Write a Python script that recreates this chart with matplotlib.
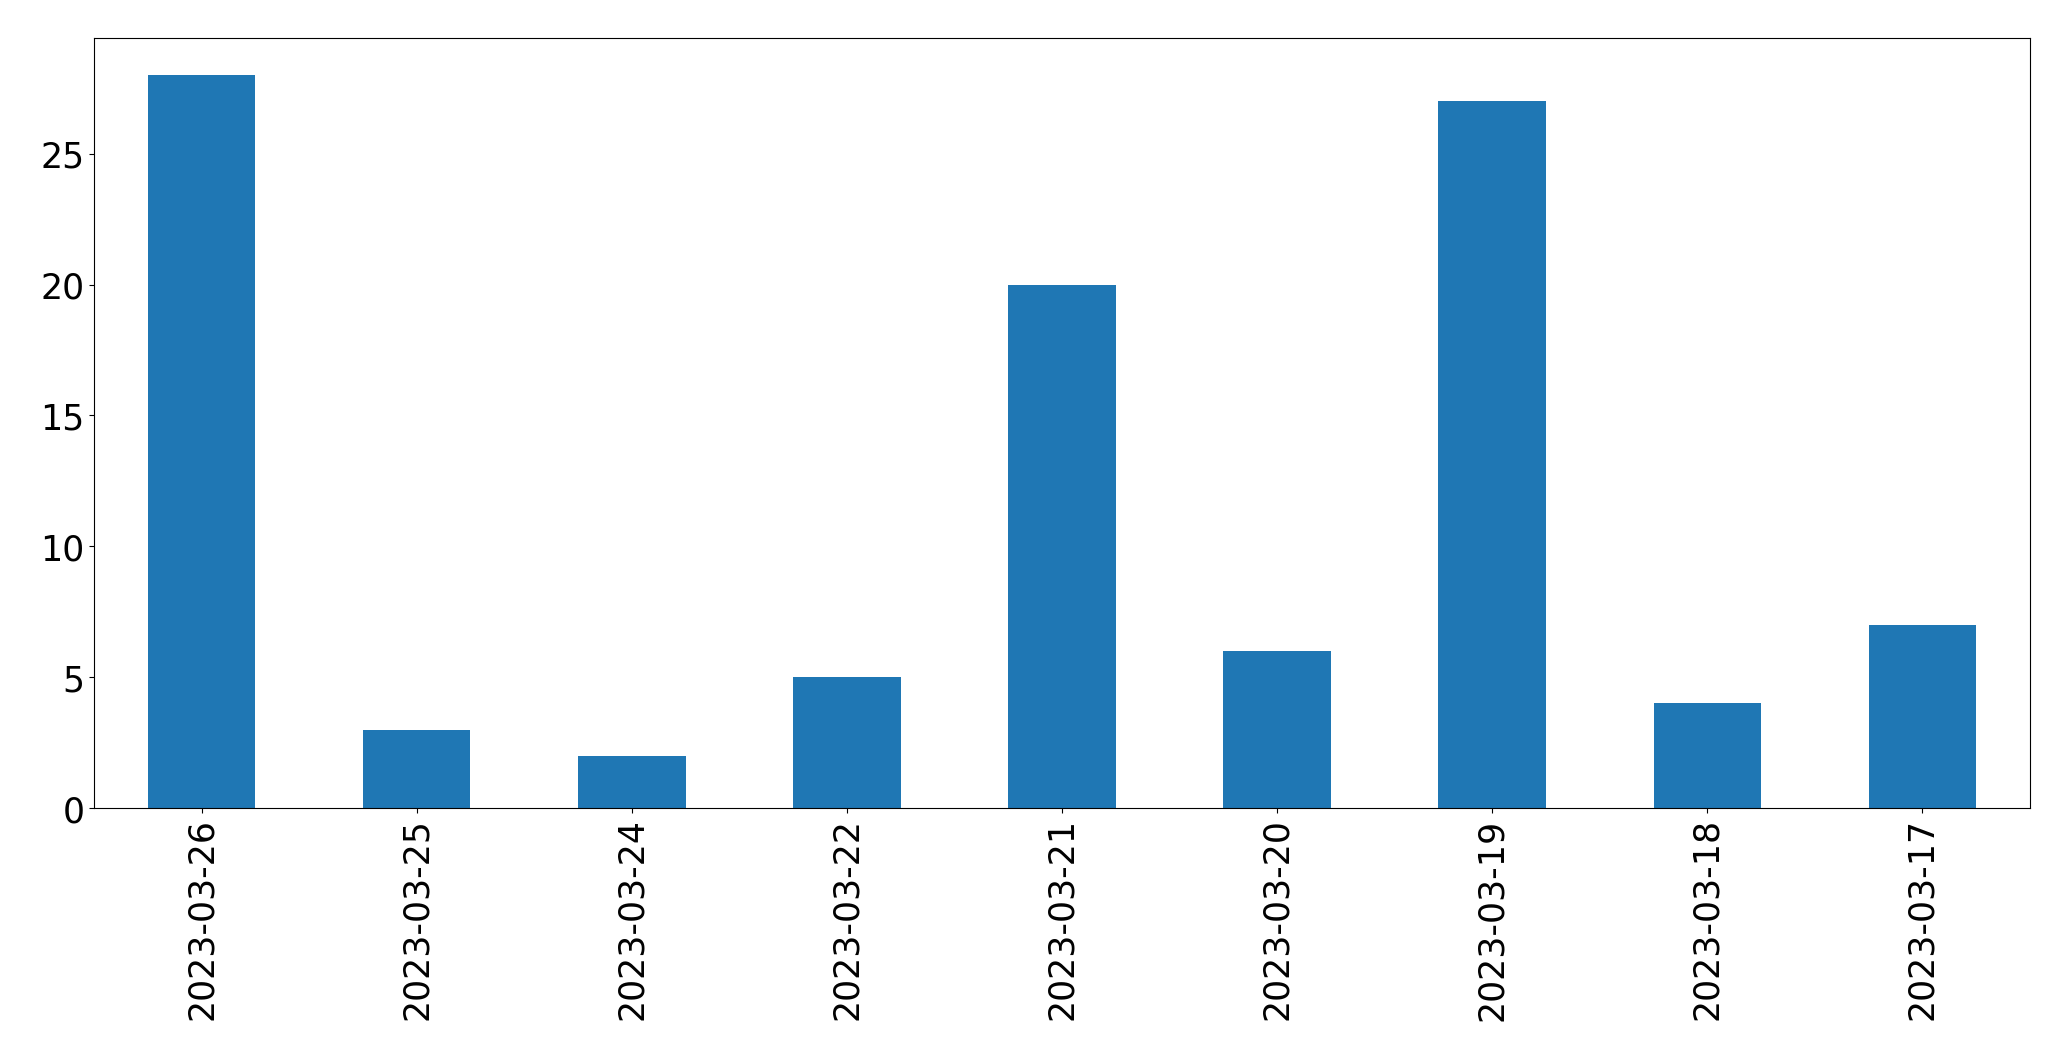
import matplotlib
matplotlib.use("Agg")
import matplotlib.pyplot as plt
import pandas as pd

dates = ["2023-03-26", "2023-03-25", "2023-03-24", "2023-03-22", "2023-03-21",
         "2023-03-20", "2023-03-19", "2023-03-18", "2023-03-17"]
counts = [28, 3, 2, 5, 20, 6, 27, 4, 7]

fig = plt.figure(figsize=(20.71, 10.605), dpi=100)
ax = fig.add_axes([94/2071, 1-809/1061, (2030-94)/2071, (809-39)/1061])
s = pd.Series(counts, index=dates)
s.plot(kind="bar", ax=ax, color="#1f77b4")
ax.tick_params(axis="both", labelsize=25)
for lbl in ax.get_xticklabels():
    lbl.set_rotation(90)
fig.savefig("out.png", dpi=100)
